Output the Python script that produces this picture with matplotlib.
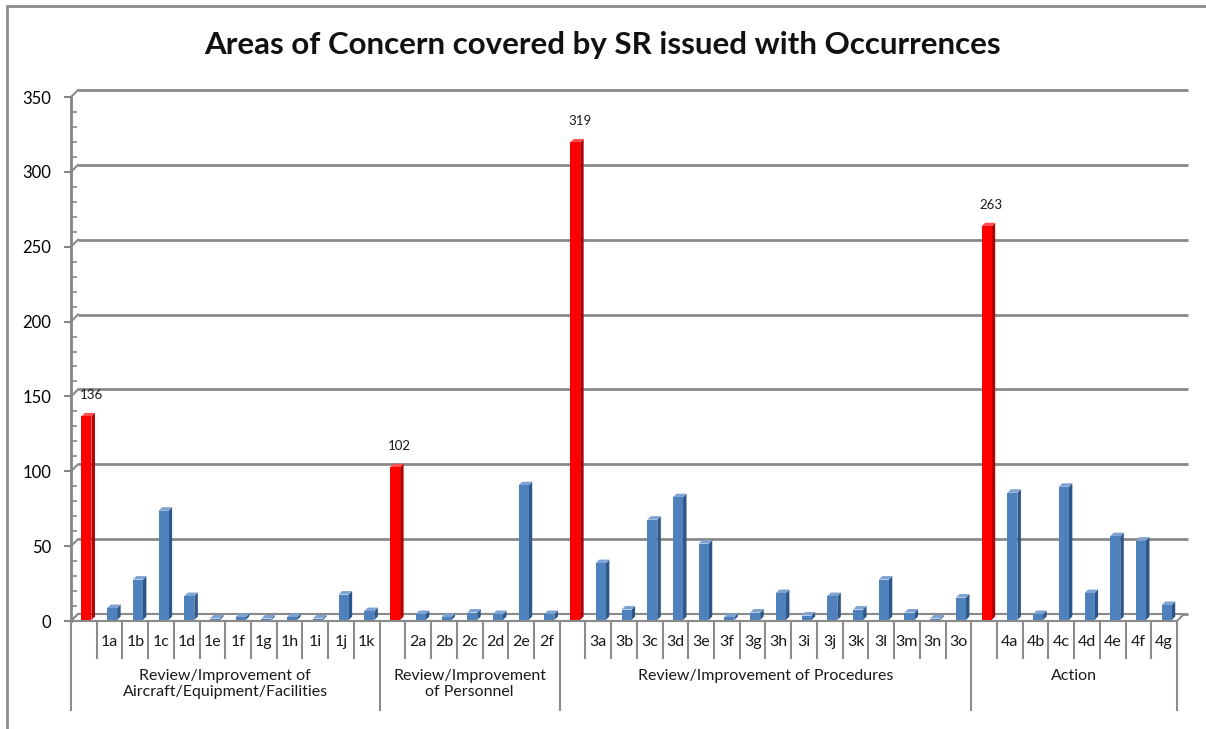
import matplotlib
matplotlib.use("Agg")
import matplotlib.pyplot as plt
from matplotlib.patches import Polygon, Rectangle
import numpy as np

plt.rcParams['font.family'] = ['Lato', 'DejaVu Sans']

# ---------------- data ----------------
title = "Areas of Concern covered by SR issued with Occurrences"
group_names = ["Review/Improvement of\nAircraft/Equipment/Facilities",
               "Review/Improvement\nof Personnel",
               "Review/Improvement of Procedures",
               "Action"]
group_totals = [136, 102, 319, 263]
sub_labels_1 = ["1a", "1b", "1c", "1d", "1e", "1f", "1g", "1h", "1i", "1j", "1k"]
sub_values_1 = [8, 27, 73, 16, 1, 2, 1, 2, 1, 17, 6]
sub_labels_2 = ["2a", "2b", "2c", "2d", "2e", "2f"]
sub_values_2 = [4, 2, 5, 4, 90, 4]
sub_labels_3 = ["3a", "3b", "3c", "3d", "3e", "3f", "3g", "3h", "3i", "3j",
                "3k", "3l", "3m", "3n", "3o"]
sub_values_3 = [38, 7, 67, 82, 51, 2, 5, 18, 3, 16, 7, 27, 5, 1, 15]
sub_labels_4 = ["4a", "4b", "4c", "4d", "4e", "4f", "4g"]
sub_values_4 = [85, 4, 89, 18, 56, 53, 10]
y_ticks = [0, 50, 100, 150, 200, 250, 300, 350]

sub_labels = [sub_labels_1, sub_labels_2, sub_labels_3, sub_labels_4]
sub_values = [sub_values_1, sub_values_2, sub_values_3, sub_values_4]

# build flat category list
cat_labels, cat_values, cat_is_total, group_spans = [], [], [], []
for g in range(4):
    start = len(cat_labels)
    cat_labels.append("")
    cat_values.append(group_totals[g])
    cat_is_total.append(True)
    for lab, val in zip(sub_labels[g], sub_values[g]):
        cat_labels.append(lab)
        cat_values.append(val)
        cat_is_total.append(False)
    group_spans.append((start, len(cat_labels) - 1))
n = len(cat_labels)

# ---------------- figure ----------------
W, H = 1206, 729
fig = plt.figure(figsize=(W / 100, H / 100), dpi=100)
fig.patch.set_facecolor("white")

# outer chart border (cropped at right/bottom)
fig.add_artist(Rectangle((7 / W, -0.1), 1.2, 1 - 6 / H + 0.1, transform=fig.transFigure,
                         fill=False, edgecolor="#8c8c8c", linewidth=2.0))

ax_l, ax_r, ax_b, ax_t = 71, 1177, 621, 97
ax = fig.add_axes([ax_l / W, 1 - ax_b / H, (ax_r - ax_l) / W, (ax_b - ax_t) / H])
ax.set_xlim(-0.5, n - 0.5)
ax.set_ylim(0, 350)
ax.set_facecolor("none")
for s in ["top", "right", "bottom"]:
    ax.spines[s].set_visible(False)
ax.spines["left"].set_color("#868686")
ax.spines["left"].set_linewidth(2)
ax.spines["left"].set_bounds(0, 350)

ax.set_yticks(y_ticks)
ax.set_yticks(np.arange(0, 351, 10), minor=True)
ax.tick_params(axis="y", which="major", direction="out", length=5, width=1.5,
               color="#868686", labelsize=12, labelcolor="#000000", pad=9)
ax.tick_params(axis="y", which="minor", direction="in", length=4, width=1.2, color="#868686")
ax.set_xticks([])

# pixel -> data helpers
px_x = (n) / (ax_r - ax_l)          # data units per px horizontally
px_y = 350 / (ax_b - ax_t)          # data units per px vertically
depth = 7                            # back wall offset in px
dxa = depth / (ax_r - ax_l)          # in axes fraction
dyd = depth * px_y

ytr = ax.get_yaxis_transform()
grid_col = "#8a8a8a"
# back wall gridlines
for yv in y_ticks:
    ax.plot([dxa, 1 + 1.5 * dxa], [yv + dyd, yv + dyd], transform=ytr, color=grid_col,
            lw=2, clip_on=False, zorder=1, solid_capstyle="butt")
    ax.plot([0, dxa], [yv, yv + dyd], transform=ytr, color=grid_col, lw=1.5,
            clip_on=False, zorder=1)
# floor
floor = Polygon([(0, 0), (1, 0), (1 + dxa, dyd), (dxa, dyd)], closed=True,
                transform=ytr, facecolor="white", edgecolor=grid_col, lw=1.5,
                clip_on=False, zorder=1)
ax.add_patch(floor)

# 3D bars
bw = 0.39
bdx = 3.5 * px_x
bdy = 3.5 * px_y
base = 1.0 * px_y
for i, (v, tot) in enumerate(zip(cat_values, cat_is_total)):
    if tot:
        front, side, top = "#ff0000", "#b30000", "#ff5050"
    else:
        front, side, top = "#4f81bd", "#2f5689", "#7ea3d2"
    x0 = i - bw / 2 + 0.1
    x1 = x0 + bw
    y0 = base
    y1 = v + base
    ax.add_patch(Polygon([(x1, y0), (x1 + bdx, y0 + bdy), (x1 + bdx, y1 + bdy), (x1, y1)],
                         closed=True, facecolor=side, edgecolor="none", zorder=3))
    ax.add_patch(Polygon([(x0, y1), (x1, y1), (x1 + bdx, y1 + bdy), (x0 + bdx, y1 + bdy)],
                         closed=True, facecolor=top, edgecolor="none", zorder=3))
    ax.add_patch(Rectangle((x0, y0), bw, v, facecolor=front, edgecolor="none", zorder=4))
    if tot:
        ax.text(i + 0.28, v + 11, f"{v}", ha="center", va="bottom", fontsize=9.5,
                color="#1a1a1a", zorder=5)

# category axis (multi-level)
xtr = ax.get_xaxis_transform()
def ax_y(py):
    return (ax_b - py) / (ax_b - ax_t)

sep_col = "#8c8c8c"
for i, lab in enumerate(cat_labels):
    if lab:
        ax.text(i, ax_y(642), lab, transform=xtr, ha="center", va="center",
                fontsize=11.5, color="#1a1a1a")
for (s, e), gname in zip(group_spans, group_names):
    for k in range(s + 1, e + 1):
        ax.plot([k - 0.5, k - 0.5], [ax_y(623), ax_y(658)], transform=xtr,
                color=sep_col, lw=1.5, clip_on=False)
    ax.plot([s - 0.5, s - 0.5], [ax_y(621), ax_y(710)], transform=xtr,
            color=sep_col, lw=1.5, clip_on=False)
    ax.text((s + e) / 2, ax_y(669), gname, transform=xtr, ha="center", va="top",
            fontsize=11.5, color="#1a1a1a", linespacing=1.2)
ax.plot([n - 0.5, n - 0.5], [ax_y(621), ax_y(710)], transform=xtr,
        color=sep_col, lw=1.5, clip_on=False)

fig.text(602 / W, 1 - 45 / H, title, ha="center", va="center", fontsize=22.5,
         fontweight="bold", color="#111111")

fig.savefig("out.png", dpi=100, facecolor="white")
